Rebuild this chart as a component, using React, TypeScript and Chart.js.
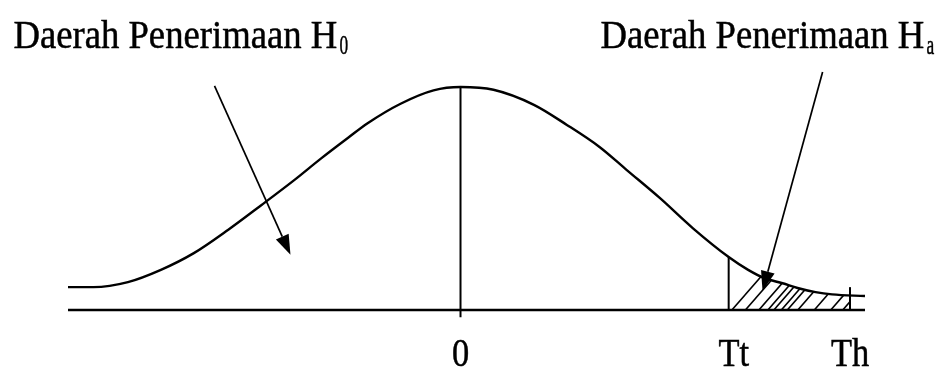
import React, { useEffect, useRef } from "react";
import { Chart, registerables } from "chart.js";

Chart.register(...registerables);

// Curve (x in standard units, y density-like units)
const curveX = [-2.62, -2.45, -2.22, -2.0, -1.78, -1.55, -1.33, -1.11, -0.93, -0.75, -0.62, -0.4, -0.18, 0, 0.22, 0.49, 0.71, 0.93, 1.11, 1.33, 1.55, 1.79, 1.92, 2.03, 2.15, 2.25, 2.37, 2.48, 2.7];
const curveY = [0.041, 0.041, 0.05, 0.072, 0.102, 0.144, 0.188, 0.233, 0.272, 0.309, 0.335, 0.370, 0.394, 0.4, 0.395, 0.368, 0.332, 0.292, 0.251, 0.201, 0.147, 0.095, 0.072, 0.057, 0.048, 0.0395, 0.032, 0.028, 0.025];

const baselineX = [-2.62, 2.7];
const markerValues = [0, 1.79, 2.6];
const markerTops = [0.4, 0.095, 0.041];
const markerBottoms = [-0.013, 0, 0];
const markerLabels = ["0", "Tt", "Th"];

// Hatch lines in the rejection region (bottom x positions)
const hatchX = [1.8, 1.89, 1.98, 2.04, 2.08, 2.13, 2.17, 2.24, 2.35, 2.46, 2.54];
const hatchFrom = 1.79;
const hatchTo = 2.6;

// Annotation labels and arrows (data units)
const labelTexts = ["Daerah Penerimaan H", "Daerah Penerimaan H"];
const labelSubs = ["0", "a"];
const labelX = [-2.984, 0.935];
const labelY = [0.47, 0.47];
const arrowFromX = [-1.642, 2.417];
const arrowFromY = [0.402, 0.427];
const arrowToX = [-1.135, 2.016];
const arrowToY = [0.099, 0.034];

const FONT = '"Liberation Serif", "Times New Roman", serif';

const annotationPlugin = {
  id: "annotations",
  beforeDatasetsDraw(chart: any) {
    const { ctx, scales } = chart;
    const xs = scales.x;
    const ys = scales.y;
    const meta = chart.getDatasetMeta(0);
    const pts = meta.data;
    ctx.save();
    ctx.beginPath();
    ctx.moveTo(pts[0].x, ys.getPixelForValue(0));
    for (const p of pts) ctx.lineTo(p.x, p.y);
    ctx.lineTo(pts[pts.length - 1].x, ys.getPixelForValue(0));
    ctx.closePath();
    ctx.clip();
    const x0 = xs.getPixelForValue(hatchFrom);
    const x1 = xs.getPixelForValue(hatchTo);
    ctx.beginPath();
    ctx.rect(x0, 0, x1 - x0, ys.getPixelForValue(0));
    ctx.clip();
    ctx.strokeStyle = "#000";
    ctx.lineWidth = 1.6;
    const yb = ys.getPixelForValue(0);
    for (const hx of hatchX) {
      const bx = xs.getPixelForValue(hx);
      ctx.beginPath();
      ctx.moveTo(bx, yb + 2);
      ctx.lineTo(bx + 0.9 * 60, yb - 60);
      ctx.stroke();
    }
    ctx.restore();
  },
  afterDraw(chart: any) {
    const { ctx, scales } = chart;
    const xs = scales.x;
    const ys = scales.y;
    ctx.save();
    ctx.fillStyle = "#000";
    ctx.strokeStyle = "#000";
    ctx.lineWidth = 0.5;
    ctx.textBaseline = "alphabetic";
    ctx.textAlign = "left";
    // top labels
    for (let i = 0; i < labelTexts.length; i++) {
      const px = xs.getPixelForValue(labelX[i]);
      const py = ys.getPixelForValue(labelY[i]);
      ctx.font = `40px ${FONT}`;
      const m = ctx.measureText(labelTexts[i]);
      const ink = m.actualBoundingBoxRight + m.actualBoundingBoxLeft;
      const s = 322 / ink;
      ctx.save();
      ctx.translate(px, py);
      ctx.scale(s, 1);
      ctx.fillText(labelTexts[i], 0, 0);
      ctx.strokeText(labelTexts[i], 0, 0);
      ctx.restore();
      ctx.save();
      ctx.translate(px + m.actualBoundingBoxRight * s + 3, py + 6);
      ctx.scale(0.62, 1);
      ctx.font = `28px ${FONT}`;
      ctx.fillText(labelSubs[i], 0, 0);
      ctx.strokeText(labelSubs[i], 0, 0);
      ctx.restore();
    }
    // tick labels
    const base = ys.getPixelForValue(0);
    for (let i = 0; i < markerLabels.length; i++) {
      const px = xs.getPixelForValue(markerValues[i]);
      ctx.save();
      ctx.translate(px + (i === 1 ? 5 : 0), base + 56);
      ctx.scale(0.86, 1);
      ctx.font = `40px ${FONT}`;
      ctx.textAlign = "center";
      ctx.fillText(markerLabels[i], 0, 0);
      ctx.strokeText(markerLabels[i], 0, 0);
      ctx.restore();
    }
    // arrows
    ctx.lineWidth = 1.7;
    for (let i = 0; i < arrowFromX.length; i++) {
      const ax = xs.getPixelForValue(arrowFromX[i]);
      const ay = ys.getPixelForValue(arrowFromY[i]);
      const bx = xs.getPixelForValue(arrowToX[i]);
      const by = ys.getPixelForValue(arrowToY[i]);
      const ang = Math.atan2(by - ay, bx - ax);
      const len = 20;
      const hw = 7;
      const cx = bx - len * Math.cos(ang);
      const cy = by - len * Math.sin(ang);
      ctx.beginPath();
      ctx.moveTo(ax, ay);
      ctx.lineTo(cx, cy);
      ctx.stroke();
      ctx.beginPath();
      ctx.moveTo(bx, by);
      ctx.lineTo(cx + hw * Math.sin(ang), cy - hw * Math.cos(ang));
      ctx.lineTo(cx - hw * Math.sin(ang), cy + hw * Math.cos(ang));
      ctx.closePath();
      ctx.fill();
    }
    ctx.restore();
  },
};

export default function App() {
  const ref = useRef<HTMLCanvasElement | null>(null);
  useEffect(() => {
    if (!ref.current) return;
    const lineStyle = {
      borderColor: "#000",
      pointRadius: 0,
      fill: false,
      clip: false as any,
      tension: 0,
    };
    const datasets: any[] = [
      {
        ...lineStyle,
        data: curveX.map((x, i) => ({ x, y: curveY[i] })),
        borderWidth: 2.4,
        cubicInterpolationMode: "monotone",
      },
      {
        ...lineStyle,
        data: baselineX.map((x) => ({ x, y: 0 })),
        borderWidth: 2.5,
      },
      ...markerValues.map((v, i) => ({
        ...lineStyle,
        data: [
          { x: v, y: markerBottoms[i] },
          { x: v, y: markerTops[i] },
        ],
        borderWidth: 2,
      })),
    ];
    const chart = new Chart(ref.current, {
      type: "line",
      data: { datasets },
      options: {
        animation: false,
        responsive: false,
        devicePixelRatio: 1,
        layout: { padding: { left: 68, right: 72, top: 87, bottom: 57 } },
        plugins: { legend: { display: false }, tooltip: { enabled: false } },
        scales: {
          x: { type: "linear", min: -2.62, max: 2.7, display: false },
          y: { type: "linear", min: 0, max: 0.4, display: false },
        },
      },
      plugins: [annotationPlugin],
    });
    return () => chart.destroy();
  }, []);
  return (
    <div style={{ position: "fixed", left: 0, top: 0, width: 937, height: 367, background: "#fff" }}>
      <canvas ref={ref} width={937} height={367} style={{ display: "block" }} />
    </div>
  );
}
